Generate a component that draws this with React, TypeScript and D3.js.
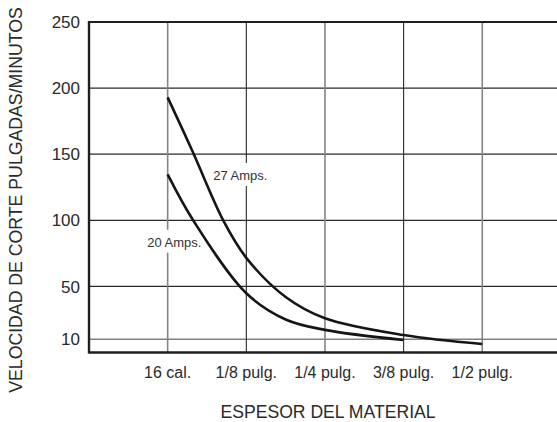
import React from "react";
import * as d3 from "d3";

// categories along the x axis (material thickness)
const thicknessLabels = ["16 cal.", "1/8 pulg.", "1/4 pulg.", "3/8 pulg.", "1/2 pulg."];
const yTicks = [10, 50, 100, 150, 200, 250];

// 27 Amps curve: position along thickness axis (0 = 16 cal.) and speed
const pos27 = [0, 0.31, 0.71, 1, 1.5, 2, 3, 4];
const speed27 = [193, 153, 99.5, 71.6, 42, 25.9, 13.2, 6.4];

// 20 Amps curve
const pos20 = [0, 0.33, 1, 1.5, 2, 3];
const speed20 = [134.8, 99.5, 44.8, 25, 17.1, 9.5];

const seriesNames = ["27 Amps.", "20 Amps."];

const W = 557;
const H = 422;
const FONT = "'Liberation Sans', Arial, Helvetica, sans-serif";
const INK = "#1e1e1e";

export default function App() {
  const x = d3.scaleLinear().domain([-1, 4.95]).range([89, W]);
  const y = d3.scaleLinear().domain([0, 250]).range([352.5, 22]);

  const line = d3
    .line<[number, number]>()
    .x((d) => x(d[0]))
    .y((d) => y(d[1]))
    .curve(d3.curveCatmullRom.alpha(0.5));

  const d27 = line(pos27.map((p, i) => [p, speed27[i]] as [number, number])) || "";
  const d20 = line(pos20.map((p, i) => [p, speed20[i]] as [number, number])) || "";

  // label anchors in data units
  const labels = [
    { text: seriesNames[0], px: 0.58, py: 130.5, w: 55 },
    { text: seriesNames[1], px: -0.26, py: 80, w: 55 },
  ];

  return (
    <div style={{ position: "absolute", left: 0, top: 0 }}>
      <svg width={W} height={H} style={{ display: "block", background: "#fff" }} fontFamily={FONT}>
        {/* horizontal grid */}
        {yTicks.filter((t) => t !== 250).map((t) => (
          <line
            key={"h" + t}
            x1={x(-1)}
            x2={W}
            y1={y(t)}
            y2={y(t)}
            stroke={t === 10 ? "#808080" : "#2a2a2a"}
            strokeWidth={t === 10 ? 1.4 : 1.2}
          />
        ))}
        {/* vertical grid */}
        {thicknessLabels.map((_, i) => (
          <line
            key={"v" + i}
            x1={x(i)}
            x2={x(i)}
            y1={y(250)}
            y2={y(0)}
            stroke={i % 2 === 0 ? "#858585" : "#2a2a2a"}
            strokeWidth={i % 2 === 0 ? 1.6 : 1.1}
          />
        ))}
        {/* label backgrounds */}
        {labels.map((l) => (
          <rect
            key={"bg" + l.text}
            x={x(l.px) - 2}
            y={y(l.py) - 17}
            width={l.w + 4}
            height={23}
            fill="#fff"
          />
        ))}
        {/* frame */}
        <line x1={x(-1)} x2={W} y1={y(250)} y2={y(250)} stroke={INK} strokeWidth={2.2} />
        <line x1={x(-1)} x2={W} y1={y(0)} y2={y(0)} stroke={INK} strokeWidth={2.4} />
        <line x1={x(-1)} x2={x(-1)} y1={y(250) - 1} y2={y(0) + 1} stroke={INK} strokeWidth={2.4} />

        {/* curves */}
        <path d={d27} fill="none" stroke="#151515" strokeWidth={2.6} />
        <path d={d20} fill="none" stroke="#151515" strokeWidth={2.6} />

        {labels.map((l) => (
          <text key={l.text} x={x(l.px)} y={y(l.py)} fontSize={13} fill="#333">
            {l.text}
          </text>
        ))}

        {/* y tick labels */}
        {yTicks.map((t) => (
          <text
            key={"yt" + t}
            x={80}
            y={y(t)}
            dy="0.36em"
            textAnchor="end"
            fontSize={17}
            fill="#2a2a2a"
          >
            {t}
          </text>
        ))}

        {/* x tick labels */}
        {thicknessLabels.map((l, i) => (
          <text key={"xt" + i} x={x(i)} y={378} textAnchor="middle" fontSize={16} fill="#2a2a2a">
            {l}
          </text>
        ))}

        {/* axis titles */}
        <text x={328} y={418} textAnchor="middle" fontSize={17.6} fill="#2a2a2a">
          ESPESOR DEL MATERIAL
        </text>
        <text
          transform={`translate(22,${200}) rotate(-90)`}
          textAnchor="middle"
          fontSize={17.7}
          fill="#2a2a2a"
        >
          VELOCIDAD DE CORTE PULGADAS/MINUTOS
        </text>
      </svg>
    </div>
  );
}
